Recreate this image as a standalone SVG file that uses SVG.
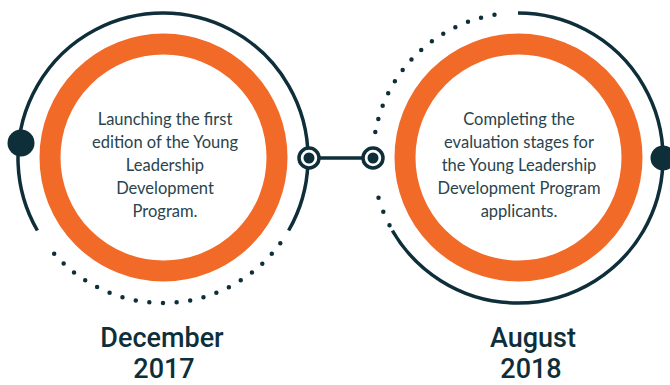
<svg xmlns="http://www.w3.org/2000/svg" width="670" height="385" viewBox="0 0 670 385">
<style>
.arc{fill:none;stroke:#0e2f3a;stroke-width:3.5}
.dots{fill:none;stroke:#0e2f3a;stroke-width:4.5;stroke-linecap:round}
.ring{fill:#fff;stroke:#f26a28;stroke-width:21}
.body{font-family:Lato,"Open Sans",sans-serif;font-size:16.5px;fill:#2a444d;text-anchor:middle}
.date{font-family:Roboto,Lato,sans-serif;font-size:27px;font-weight:500;fill:#0e2f3a;text-anchor:middle}
.dot{fill:#0e2f3a}
.node{fill:#fff;stroke:#0e2f3a;stroke-width:3.5}
</style>
<rect width="670" height="385" fill="#fff"/>
<g id="node-2017">
  <path class="arc" d="M37.4,230.5 A145,145 0 1 1 288.6,230.5"/>
  <path class="dots" d="M280.3,243.2 A145,145 0 0 1 45.7,243.2" stroke-dasharray="0 13.66"/>
  <circle class="ring" cx="163.5" cy="157.5" r="113.5"/>
  <circle class="dot" cx="21" cy="143" r="13.5"/>
  <text class="body" x="165" y="125">Launching the first</text>
  <text class="body" x="165" y="148">edition of the Young</text>
  <text class="body" x="165" y="171">Leadership</text>
  <text class="body" x="165" y="194">Development</text>
  <text class="body" x="165" y="217">Program.</text>
  <text class="date" x="162" y="347">December</text>
  <text class="date" x="164" y="378">2017</text>
</g>
<g id="node-2018">
  <path class="arc" d="M518,13 A145,145 0 1 1 392.4,230.5"/>
  <path class="dots" d="M389.5,225.2 A145,145 0 0 1 375.2,183.2" stroke-dasharray="0 14.84"/>
  <path class="dots" d="M375.3,132.1 A145,145 0 0 1 507.9,13.3" stroke-dasharray="0 13.68"/>
  <circle class="ring" cx="518.5" cy="157.5" r="113.5"/>
  <circle class="dot" cx="663" cy="158" r="12.5"/>
  <text class="body" x="519" y="125">Completing the</text>
  <text class="body" x="519" y="148">evaluation stages for</text>
  <text class="body" x="519" y="171">the Young Leadership</text>
  <text class="body" x="519" y="194">Development Program</text>
  <text class="body" x="519" y="217">applicants.</text>
  <text class="date" x="533" y="347">August</text>
  <text class="date" x="531" y="378">2018</text>
</g>
<g id="connectors">
  <line x1="309" y1="158" x2="373" y2="158" stroke="#0e2f3a" stroke-width="3.5"/>
  <circle class="node" cx="309" cy="158" r="10"/>
  <circle class="dot" cx="309" cy="158" r="5.5"/>
  <circle class="node" cx="373" cy="158" r="10"/>
  <circle class="dot" cx="373" cy="158" r="5.5"/>
</g>
</svg>
